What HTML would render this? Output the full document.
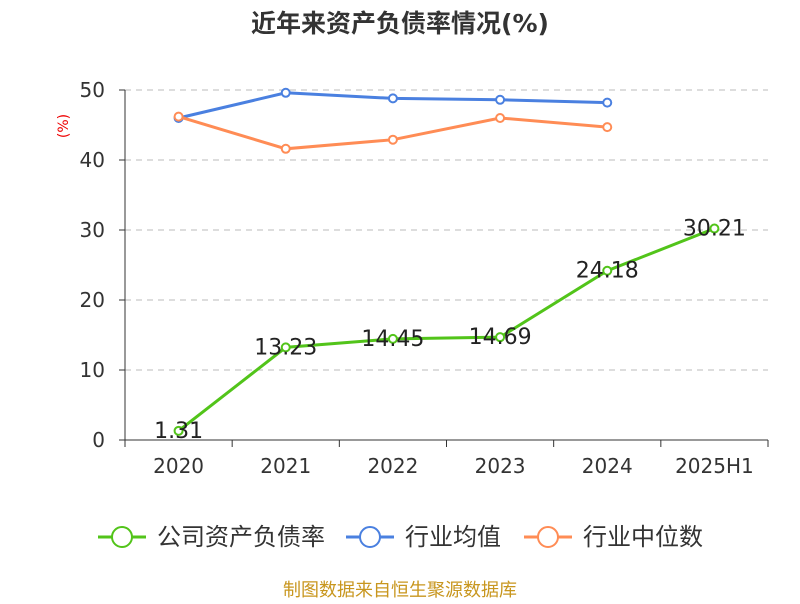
<!DOCTYPE html>
<html><head><meta charset="utf-8"><style>
body{margin:0;background:#fff;font-family:"DejaVu Sans","Noto Sans CJK SC",sans-serif;}
</style></head><body>
<svg width="800" height="600" xmlns="http://www.w3.org/2000/svg" id="c" font-family="DejaVu Sans, Noto Sans CJK SC, sans-serif">
<text x="400" y="32" text-anchor="middle" font-size="25" font-weight="bold" fill="#333">近年来资产负债率情况(%)</text>
<text x="68" y="126" font-size="14" fill="#e00" transform="rotate(-90 68 126)" text-anchor="middle">(%)</text>
<g id="grid"></g><g id="axes"></g><g id="series"></g>
<g font-size="24" fill="#333">
<g><line x1="98" y1="537" x2="146" y2="537" stroke="#52c41a" stroke-width="3"/><circle cx="122" cy="537" r="10" fill="#fff" stroke="#52c41a" stroke-width="2"/><text x="157" y="545">公司资产负债率</text></g>
<g><line x1="346" y1="537" x2="394" y2="537" stroke="#4a80e0" stroke-width="3"/><circle cx="370" cy="537" r="10" fill="#fff" stroke="#4a80e0" stroke-width="2"/><text x="405" y="545">行业均值</text></g>
<g><line x1="524" y1="537" x2="572" y2="537" stroke="#ff8c55" stroke-width="3"/><circle cx="548" cy="537" r="10" fill="#fff" stroke="#ff8c55" stroke-width="2"/><text x="583" y="545">行业中位数</text></g>
</g>
<text x="400" y="596" text-anchor="middle" font-size="18" fill="#c8961e">制图数据来自恒生聚源数据库</text>
</svg>
<script>
const categories=["2020","2021","2022","2023","2024","2025H1"];
const companyValues=[1.31,13.23,14.45,14.69,24.18,30.21];
const industryAvg=[46.0,49.6,48.8,48.6,48.2];
const industryMedian=[46.2,41.6,42.9,46.0,44.7];
const yTicks=[0,10,20,30,40,50];
const NS="http://www.w3.org/2000/svg";
const x0=125,x1=768,y0=440,yTop=90,yMax=50;
const bw=(x1-x0)/categories.length;
const xs=i=>x0+bw*(i+0.5);
const ys=v=>y0-(v/yMax)*(y0-yTop);
function mk(tag,attrs,parent){const e=document.createElementNS(NS,tag);for(const k in attrs)e.setAttribute(k,attrs[k]);parent.appendChild(e);return e;}
const grid=document.getElementById('grid'),axes=document.getElementById('axes'),ser=document.getElementById('series');
yTicks.forEach(t=>{
 if(t>0){const g=mk('line',{x1:x0,x2:x1,y1:ys(t),y2:ys(t),stroke:'#bbb','stroke-dasharray':'6,5'},grid);
 
 }
 const tk=mk('line',{x1:x0-6,x2:x0,y1:ys(t),y2:ys(t),stroke:'#333'},axes);
 
 
 const l=mk('text',{x:x0-20,y:ys(t)+7,'text-anchor':'end','font-size':'20',fill:'#333'},axes);l.textContent=t;
 
 
});
const ya=mk('line',{x1:x0,x2:x0,y1:yTop,y2:y0,stroke:'#333'},axes);


const xa=mk('line',{x1:x0,x2:x1,y1:y0,y2:y0,stroke:'#333'},axes);


for(let i=0;i<=categories.length;i++){const t=mk('line',{x1:x0+bw*i,x2:x0+bw*i,y1:y0,y2:y0+7,stroke:'#333'},axes);
 
 }
categories.forEach((c,i)=>{const l=mk('text',{x:xs(i),y:y0+33,'text-anchor':'middle','font-size':'20',fill:'#333'},axes);l.textContent=c;
 
 });
function series(vals,color,name,labels){
 const g=mk('g',{},ser);
 
 
 const p=mk('polyline',{points:vals.map((v,i)=>xs(i)+','+ys(v)).join(' '),fill:'none',stroke:color,'stroke-width':3},g);
 
 
 vals.forEach((v,i)=>{const c=mk('circle',{cx:xs(i),cy:ys(v),r:4,fill:'#fff',stroke:color,'stroke-width':2},g);
  
  
  if(labels){const t=mk('text',{x:xs(i),y:ys(v)+7,'text-anchor':'middle','font-size':'22',fill:'#222'},g);t.textContent=v.toFixed(2);
   
   }
 });
}
series(industryAvg,'#4a80e0','industry-avg-series',false);
series(industryMedian,'#ff8c55','industry-median-series',false);
series(companyValues,'#52c41a','company-series',true);
</script>
</body></html>
